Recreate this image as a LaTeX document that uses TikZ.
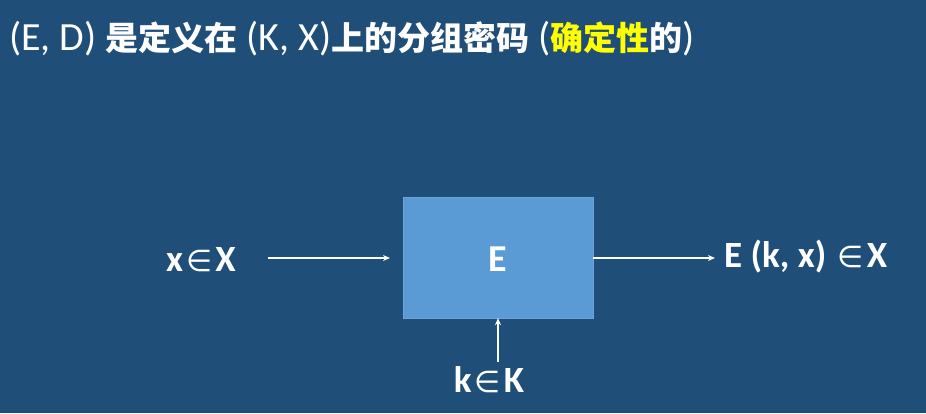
\documentclass[tikz,border=0pt]{standalone}
\usepackage{fontspec}
\usetikzlibrary{arrows.meta}
\setmainfont{Carlito}
\newfontfamily\cjk{Noto Sans CJK SC}
\newfontfamily\djv{DejaVu Sans}
\definecolor{bg}{HTML}{1F4E79}
\definecolor{boxc}{HTML}{5B9BD5}
\definecolor{hl}{HTML}{FFFF00}
\newcommand{\cj}[1]{{\cjk\fontsize{33}{36}\selectfont\bfseries #1}}
\newcommand{\inel}{\hspace{3pt}{\djv\mdseries\fontsize{30}{32}\selectfont ∈}\hspace{3pt}}
\begin{document}
\begin{tikzpicture}[x=1pt,y=-1pt,
  lbl/.style={text=white,font=\fontsize{37}{40}\selectfont\bfseries,inner sep=0pt},
  arr/.style={draw=white,line width=1.6pt,-{Stealth[length=7pt,width=6pt]}}]
\fill[bg] (0,0) rectangle (926,413);
\useasboundingbox (0,0) rectangle (926,413);
\node[anchor=base west,text=white,inner sep=0pt,font=\fontsize{40}{44}\selectfont] (title) at (9,50)
  {(E, D) \cj{是定义在} (K, X)\cj{上的分组密码} (\cj{\color{hl}确定性}\cj{的})};
\node[fill=boxc,minimum width=190pt,minimum height=121pt,inner sep=0pt,draw=boxc!90!white] (E) at (498,257.5) {};
\node[lbl,font=\fontsize{38}{40}\selectfont\bfseries] (Et) at (498,259) {E};
\node[lbl,anchor=west] (x) at (166,260) {x\inel X};
\node[lbl,anchor=west] (out) at (724,257) {E (k, x) \inel X};
\node[lbl] (k) at (489,380) {k\inel K};
\coordinate (a1) at (268,258);
\coordinate (a2) at (390,258);
\coordinate (b2) at (715,258);
\coordinate (c1) at (498,362);
\draw[arr] (a1) -- (a2);
\draw[arr] (E.east |- b2) -- (b2);
\draw[arr] (c1) -- (E.south);
\end{tikzpicture}
\end{document}
